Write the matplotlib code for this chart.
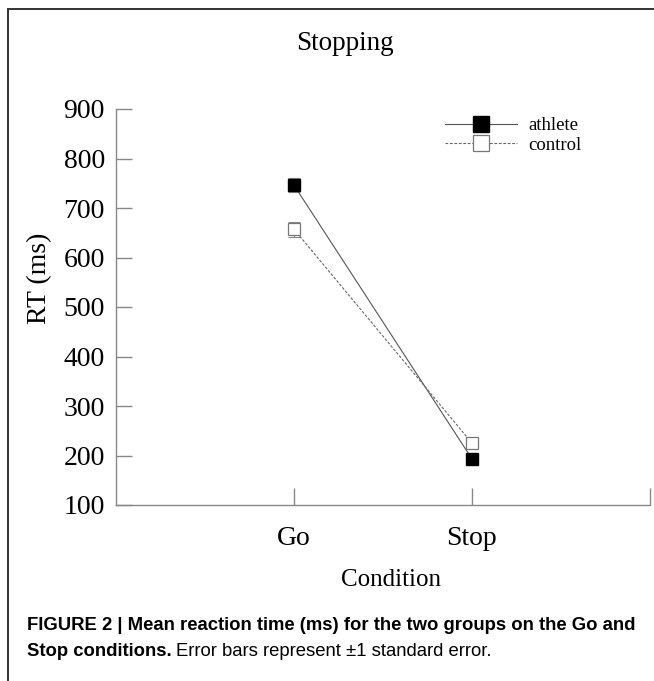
import matplotlib
matplotlib.use("Agg")
import matplotlib.pyplot as plt
from matplotlib.lines import Line2D
from matplotlib.patches import Rectangle

# --- Data ---
conditions = ["Go", "Stop"]
cond_pos = [1, 2]
athlete_rt = [746, 193]
athlete_se = [14, 5]
control_rt = [657, 225]
control_se = [15, 5]

SERIF = ["Liberation Serif", "DejaVu Serif"]
SANS = ["Liberation Sans", "DejaVu Sans"]

W, H = 654, 681
fig = plt.figure(figsize=(W / 100, H / 100), dpi=100)
ax = fig.add_axes([116 / W, 1 - 505 / H, 534 / W, 396 / H])

# frame around the whole panel (only top and left edges fall inside the image)
fig.add_artist(Rectangle((8 / W, -0.05), 1.2, 1 - 9 / H + 0.05,
                         transform=fig.transFigure, fill=False,
                         edgecolor="#333333", linewidth=1.4))

axis_grey = "#888888"
solid_style = dict(color="#555555", linewidth=0.8, linestyle="-",
                   marker="s", markerfacecolor="black",
                   markeredgecolor="black")
dashed_style = dict(color="#666666", linewidth=0.8, linestyle=(0, (2.5, 1.5)),
                    marker="s", markerfacecolor="white",
                    markeredgecolor="#777777", markeredgewidth=0.9)

# error bars first, markers/lines on top
for vals, errs in [(athlete_rt, athlete_se), (control_rt, control_se)]:
    ax.errorbar(cond_pos, vals, yerr=errs, fmt="none", ecolor=axis_grey,
                elinewidth=0.8, capsize=4.2, capthick=0.8, zorder=2)

ax.plot(cond_pos, athlete_rt, markersize=8.3, zorder=3, **solid_style)
ax.plot(cond_pos, control_rt, markersize=8.3, zorder=3, **dashed_style)

ax.set_xlim(0, 3)
ax.set_ylim(100, 900)
ax.set_xticks([1, 2, 3])
ax.set_xticklabels(conditions + [""])
ax.set_yticks(range(100, 1000, 100))

for side in ["top", "right"]:
    ax.spines[side].set_visible(False)
for side in ["left", "bottom"]:
    ax.spines[side].set_color(axis_grey)
    ax.spines[side].set_linewidth(1.0)

ax.tick_params(axis="both", direction="in", width=1.0, color=axis_grey,
               labelsize=20)
ax.tick_params(axis="x", length=12, pad=15)
ax.tick_params(axis="y", length=11.5, pad=8)
for lab in ax.get_xticklabels() + ax.get_yticklabels():
    lab.set_family(SERIF)

ax.set_ylabel("RT (ms)", fontsize=20, family=SERIF, va="center")
ax.yaxis.set_label_coords((40 - 116) / 534, (505 - 278) / 396)
ax.set_xlabel("Condition", fontsize=18, family=SERIF, va="center")
ax.xaxis.set_label_coords((391 - 116) / 534, (505 - 580) / 396)
fig.text(345 / W, 1 - 44 / H, "Stopping", ha="center", va="center",
         fontsize=19.5, family=SERIF)

# legend
handles = [Line2D([], [], markersize=12, **solid_style),
           Line2D([], [], markersize=12, **dashed_style)]
ax.legend(handles, ["athlete", "control"], frameon=False,
          loc="upper left", bbox_to_anchor=(445 / W, 1 - 117 / H),
          bbox_transform=fig.transFigure,
          prop={"family": SERIF, "size": 13.5},
          handlelength=3.85, handletextpad=0.59, labelspacing=0.12,
          borderaxespad=0, borderpad=0)

# caption
fig.text(27 / W, 1 - 626 / H,
         "FIGURE 2 | Mean reaction time (ms) for the two groups on the Go and",
         ha="left", va="center", fontsize=13.3, fontweight="bold", family=SANS)
t1 = fig.text(27 / W, 1 - 651 / H, "Stop conditions.", ha="left",
              va="center", fontsize=13.3, fontweight="bold", family=SANS)
fig.canvas.draw()
bb = t1.get_window_extent()
fig.text((bb.x1 + 4) / W, 1 - 651 / H,
         "Error bars represent \u00b11 standard error.", ha="left",
         va="center", fontsize=13.3, family=SANS)

fig.savefig("out.png", dpi=100)
